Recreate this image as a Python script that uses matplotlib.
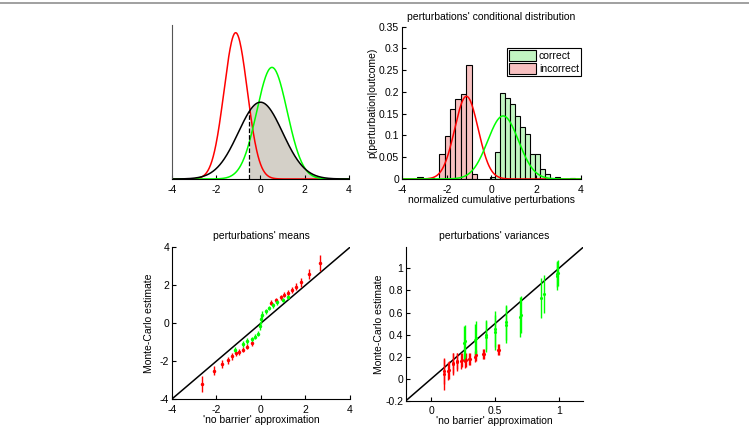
import numpy as np
import matplotlib.pyplot as plt
from matplotlib.lines import Line2D
from matplotlib.patches import Patch
from matplotlib.ticker import FormatStrFormatter

plt.rcParams['font.family'] = ['Liberation Sans', 'DejaVu Sans']
plt.rcParams['font.size'] = 7.5
plt.rcParams['axes.unicode_minus'] = False

# Gaussian curves (mean, sd), area = bin width
bin_area = 0.25
prior_mu, prior_sd = 0.0, 1.0
corr_mu, corr_sd = 0.52, 0.688
inc_mu, inc_sd = -1.12, 0.525
threshold = -0.5

# histogram bars (left edges, heights)
red_width = 0.245
red_left = [-3.325, -2.835, -2.345, -2.10, -1.855, -1.61, -1.365, -1.12, -0.875]
red_h = [0.005, 0.003, 0.057, 0.098, 0.160, 0.183, 0.196, 0.263, 0.012]
green_width = 0.222
green_left = [-0.052, 0.17, 0.392, 0.614, 0.836, 1.058, 1.28, 1.502, 1.724, 1.946,
              2.168, 2.39, 2.612, 2.834, 3.5]
green_h = [0.004, 0.062, 0.197, 0.186, 0.173, 0.145, 0.119, 0.104, 0.057, 0.057,
           0.022, 0.011, 0.003, 0.004, 0.002]

# means panel
red_mx = [-2.67, -2.1, -1.74, -1.47, -1.29, -1.12, -0.99, -0.79, -0.61, -0.42,
          0.43, 0.66, 0.89, 1.05, 1.2, 1.38, 1.56, 1.78, 2.17, 2.67]
red_my = [-3.2, -2.5, -2.15, -1.95, -1.75, -1.6, -1.52, -1.4, -1.25, -1.07,
          1.08, 1.2, 1.37, 1.5, 1.58, 1.74, 1.93, 2.15, 2.58, 3.15]
red_me = [0.42, 0.25, 0.22, 0.18, 0.17, 0.15, 0.14, 0.14, 0.13, 0.13,
          0.13, 0.13, 0.14, 0.14, 0.15, 0.17, 0.18, 0.22, 0.25, 0.42]
green_mx = [-1.17, -0.82, -0.61, -0.42, -0.27, -0.15, -0.04, 0.0, 0.05, 0.22,
            0.35, 0.52, 0.7, 1.0, 1.22]
green_my = [-1.42, -1.1, -0.95, -0.85, -0.72, -0.55, -0.15, 0.2, 0.45, 0.62,
            0.8, 0.95, 1.1, 1.22, 1.38]
green_me = [0.15, 0.15, 0.14, 0.13, 0.13, 0.13, 0.2, 0.25, 0.2, 0.13,
            0.13, 0.13, 0.13, 0.13, 0.13]

# variances panel
red_vx = [0.095, 0.10, 0.13, 0.135, 0.168, 0.173, 0.198, 0.203, 0.232, 0.237,
          0.265, 0.27, 0.298, 0.303, 0.345, 0.35, 0.408, 0.413, 0.522, 0.532]
red_vy = [0.04, 0.07, 0.07, 0.08, 0.13, 0.14, 0.15, 0.16, 0.16, 0.17,
          0.16, 0.17, 0.18, 0.18, 0.20, 0.21, 0.22, 0.22, 0.26, 0.26]
red_ve = [0.14, 0.12, 0.085, 0.08, 0.10, 0.09, 0.08, 0.075, 0.07, 0.065,
          0.06, 0.06, 0.055, 0.055, 0.05, 0.05, 0.045, 0.045, 0.05, 0.05]
green_vx = [0.255, 0.26, 0.343, 0.348, 0.425, 0.43, 0.498, 0.503, 0.583, 0.588,
            0.695, 0.70, 0.86, 0.885, 0.985, 0.99, 0.995]
green_vy = [0.32, 0.34, 0.35, 0.37, 0.38, 0.40, 0.42, 0.45, 0.49, 0.51,
            0.56, 0.58, 0.73, 0.77, 0.93, 0.95, 0.96]
green_ve = [0.16, 0.15, 0.15, 0.15, 0.14, 0.13, 0.16, 0.16, 0.17, 0.16,
            0.18, 0.17, 0.18, 0.17, 0.13, 0.12, 0.12]


def gauss(x, mu, sd):
    return bin_area * np.exp(-0.5 * ((x - mu) / sd) ** 2) / (sd * np.sqrt(2 * np.pi))


def style(ax):
    ax.spines['top'].set_visible(False)
    ax.spines['right'].set_visible(False)
    ax.tick_params(direction='in', length=3, labelsize=7.5)
    ax.tick_params(axis='x', pad=4)
    ax.tick_params(axis='y', pad=2)


fig = plt.figure(figsize=(7.49, 4.28), dpi=100)
fig.add_artist(Line2D([0, 1], [1 - 3 / 428, 1 - 3 / 428], color='#909090', lw=1.2,
                      transform=fig.transFigure))

xs = np.linspace(-4, 4, 400)

# top-left
ax1 = fig.add_axes([0.2296, 0.5818, 0.2363, 0.3598])
style(ax1)
yb = gauss(xs, prior_mu, prior_sd)
m = xs >= threshold
ax1.fill_between(xs[m], 0, yb[m], color='#d4d0c8', lw=0)
ax1.plot(xs, gauss(xs, inc_mu, inc_sd), color='#ff0000', lw=1.1)
ax1.plot(xs, gauss(xs, corr_mu, corr_sd), color='#00ff00', lw=1.1)
ax1.plot(xs, yb, color='black', lw=1.1)
ax1.plot([threshold, threshold], [0, gauss(threshold, prior_mu, prior_sd)], color='black',
         ls='--', lw=0.9)
ax1.set_xlim(-4, 4)
ax1.set_ylim(0, 0.2)
ax1.set_xticks([-4, -2, 0, 2, 4])
ax1.set_yticks([])
ax1.spines['left'].set_color('#555555')

# top-right
ax2 = fig.add_axes([0.5367, 0.5818, 0.239, 0.3558])
style(ax2)
ax2.bar(green_left, green_h, width=green_width, align='edge', color='#c2f5c2',
        edgecolor='black', lw=0.8)
ax2.bar(red_left, red_h, width=red_width, align='edge', color='#f7c0c0',
        edgecolor='black', lw=0.8)
ax2.plot(xs, gauss(xs, inc_mu, inc_sd), color='#ff0000', lw=1.1)
ax2.plot(xs, gauss(xs, corr_mu, corr_sd), color='#00ff00', lw=1.1)
ax2.set_xlim(-4, 4)
ax2.set_ylim(0, 0.35)
ax2.set_xticks([-4, -2, 0, 2, 4])
ax2.set_yticks(np.arange(0, 0.36, 0.05))
ax2.yaxis.set_major_formatter(FormatStrFormatter('%g'))
ax2.set_title("perturbations' conditional distribution", fontsize=7.5, pad=5)
ax2.set_xlabel('normalized cumulative perturbations', fontsize=7.5, labelpad=0)
ax2.set_ylabel('p(perturbation|outcome)', fontsize=7.5, labelpad=1)
handles = [Patch(facecolor='#c2f5c2', edgecolor='black', lw=0.8),
           Patch(facecolor='#f7c0c0', edgecolor='black', lw=0.8)]
leg = ax2.legend(handles, ['correct', 'incorrect'], loc='upper right',
                 bbox_to_anchor=(1.0, 0.862), fancybox=False, framealpha=1,
                 edgecolor='black', handlelength=2.6, handleheight=1.3,
                 handletextpad=0.3, borderpad=0.2, labelspacing=0.15,
                 borderaxespad=0, fontsize=7.5)
leg.get_frame().set_linewidth(0.8)

# bottom-left
ax3 = fig.add_axes([0.2296, 0.0678, 0.2376, 0.3544])
style(ax3)
ax3.plot([-4, 4], [-4, 4], color='black', lw=1.1)
ax3.errorbar(red_mx, red_my, yerr=red_me, fmt='.', color='#ff0000', ms=3,
             elinewidth=1.0, capsize=0)
ax3.errorbar(green_mx, green_my, yerr=green_me, fmt='.', color='#00ff00', ms=3,
             elinewidth=1.0, capsize=0)
ax3.set_xlim(-4, 4)
ax3.set_ylim(-4, 4)
ax3.set_xticks([-4, -2, 0, 2, 4])
ax3.set_yticks([-4, -2, 0, 2, 4])
ax3.set_title("perturbations' means", fontsize=7.5, pad=6)
ax3.set_xlabel("'no barrier' approximation", fontsize=7.5, labelpad=0)
ax3.set_ylabel('Monte-Carlo estimate', fontsize=7.5, labelpad=4)

# bottom-right
ax4 = fig.add_axes([0.542, 0.0638, 0.2363, 0.358])
style(ax4)
ax4.plot([-0.2, 1.2], [-0.2, 1.2], color='black', lw=1.1)
ax4.errorbar(red_vx, red_vy, yerr=red_ve, fmt='.', color='#ff0000', ms=2.5,
             elinewidth=1.0, capsize=0)
ax4.errorbar(green_vx, green_vy, yerr=green_ve, fmt='.', color='#00ff00', ms=2.5,
             elinewidth=1.0, capsize=0)
ax4.set_xlim(-0.2, 1.19)
ax4.set_ylim(-0.2, 1.19)
ax4.set_xticks([0, 0.5, 1])
ax4.set_yticks([-0.2, 0, 0.2, 0.4, 0.6, 0.8, 1])
ax4.xaxis.set_major_formatter(FormatStrFormatter('%g'))
ax4.yaxis.set_major_formatter(FormatStrFormatter('%g'))
ax4.set_title("perturbations' variances", fontsize=7.5, pad=6)
ax4.set_xlabel("'no barrier' approximation", fontsize=7.5, labelpad=0)
ax4.set_ylabel('Monte-Carlo estimate', fontsize=7.5, labelpad=1)

fig.savefig('out.png', dpi=100)
